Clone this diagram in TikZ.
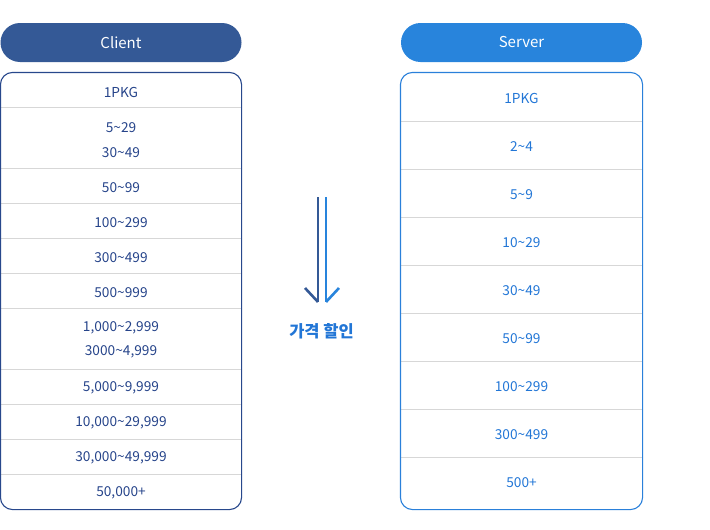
\documentclass[tikz,border=0pt]{standalone}
\usepackage{fontspec}
\setmainfont{Noto Sans CJK KR}
\usepackage{xcolor}

\definecolor{clienthead}{RGB}{52,89,150}
\definecolor{clientline}{RGB}{40,72,140}
\definecolor{clienttext}{RGB}{38,68,138}
\definecolor{serverhead}{RGB}{40,132,220}
\definecolor{serverline}{RGB}{42,128,218}
\definecolor{servertext}{RGB}{34,118,214}
\definecolor{rowline}{RGB}{215,215,215}

\tikzset{
  head/.style={rounded corners=19.5pt, minimum width=241pt, minimum height=39pt,
    inner sep=0pt, text=white, font=\fontsize{15}{18}\selectfont},
  cell/.style={inner sep=0pt, align=center, yshift=-1.5pt, font=\fontsize{13.7}{24.5}\selectfont},
  table/.style={rounded corners=12pt, line width=1.1pt, inner sep=0pt},
}

\begin{document}
\begin{tikzpicture}[x=1pt,y=-1pt]
                \useasboundingbox (0,0) rectangle (710,530);

                % headers
                \node[head, fill=clienthead] (chead) at (121,42.5) {Client};
                \node[head, fill=serverhead] (shead) at (521.5,42.5) {Server};

                % client table
                \node[table, minimum width=240pt, minimum height=436pt] (cbox) at (121,291) {};
                \draw[rowline] (cbox.west |- 0,107) -- (cbox.east |- 0,107);
                \draw[rowline] (cbox.west |- 0,168) -- (cbox.east |- 0,168);
                \draw[rowline] (cbox.west |- 0,203) -- (cbox.east |- 0,203);
                \draw[rowline] (cbox.west |- 0,238) -- (cbox.east |- 0,238);
                \draw[rowline] (cbox.west |- 0,273) -- (cbox.east |- 0,273);
                \draw[rowline] (cbox.west |- 0,308) -- (cbox.east |- 0,308);
                \draw[rowline] (cbox.west |- 0,369) -- (cbox.east |- 0,369);
                \draw[rowline] (cbox.west |- 0,404) -- (cbox.east |- 0,404);
                \draw[rowline] (cbox.west |- 0,439) -- (cbox.east |- 0,439);
                \draw[rowline] (cbox.west |- 0,474) -- (cbox.east |- 0,474);
                \draw[table, clientline] (cbox.south west) rectangle (cbox.north east);

                \node[cell, text=clienttext] (c1) at (121,91) {1PKG};
                \node[cell, text=clienttext] (c2) at (121,138.5) {5\textasciitilde 29\\30\textasciitilde 49};
                \node[cell, text=clienttext] (c3) at (121,186) {50\textasciitilde 99};
                \node[cell, text=clienttext] (c4) at (121,221) {100\textasciitilde 299};
                \node[cell, text=clienttext] (c5) at (121,256) {300\textasciitilde 499};
                \node[cell, text=clienttext] (c6) at (121,291) {500\textasciitilde 999};
                \node[cell, text=clienttext] (c7) at (121,338.5) {1,000\textasciitilde 2,999\\3000\textasciitilde 4,999};
                \node[cell, text=clienttext] (c8) at (121,386) {5,000\textasciitilde 9,999};
                \node[cell, text=clienttext] (c9) at (121,421) {10,000\textasciitilde 29,999};
                \node[cell, text=clienttext] (c10) at (121,456) {30,000\textasciitilde 49,999};
                \node[cell, text=clienttext] (c11) at (121,491) {50,000+};

                % server table
                \node[table, minimum width=241pt, minimum height=436pt] (sbox) at (521.5,291) {};
                \draw[rowline] (sbox.west |- 0,121) -- (sbox.east |- 0,121);
                \draw[rowline] (sbox.west |- 0,169) -- (sbox.east |- 0,169);
                \draw[rowline] (sbox.west |- 0,217) -- (sbox.east |- 0,217);
                \draw[rowline] (sbox.west |- 0,265) -- (sbox.east |- 0,265);
                \draw[rowline] (sbox.west |- 0,313) -- (sbox.east |- 0,313);
                \draw[rowline] (sbox.west |- 0,361) -- (sbox.east |- 0,361);
                \draw[rowline] (sbox.west |- 0,409) -- (sbox.east |- 0,409);
                \draw[rowline] (sbox.west |- 0,457) -- (sbox.east |- 0,457);
                \draw[table, serverline] (sbox.south west) rectangle (sbox.north east);

                \node[cell, text=servertext] (s1) at (521.5,97) {1PKG};
                \node[cell, text=servertext] (s2) at (521.5,145) {2\textasciitilde 4};
                \node[cell, text=servertext] (s3) at (521.5,193) {5\textasciitilde 9};
                \node[cell, text=servertext] (s4) at (521.5,241) {10\textasciitilde 29};
                \node[cell, text=servertext] (s5) at (521.5,289) {30\textasciitilde 49};
                \node[cell, text=servertext] (s6) at (521.5,337) {50\textasciitilde 99};
                \node[cell, text=servertext] (s7) at (521.5,385) {100\textasciitilde 299};
                \node[cell, text=servertext] (s8) at (521.5,433) {300\textasciitilde 499};
                \node[cell, text=servertext] (s9) at (521.5,481) {500+};

                % discount arrow
                \coordinate (ltop) at (318,197);
                \coordinate (lend) at (318,302);
                \coordinate (lbarb) at (305,288);
                \coordinate (rtop) at (326,197);
                \coordinate (rend) at (326,302);
                \coordinate (rbarb) at (339,288);
                \draw[clienthead, line width=2.6pt] (ltop) -- (lend);
                \draw[clienthead, line width=2.6pt] (lbarb) -- (lend);
                \draw[serverhead, line width=2.6pt] (rtop) -- (rend);
                \draw[serverhead, line width=2.6pt] (rbarb) -- (rend);

                \node[text=servertext, font=\bfseries\fontsize{16.5}{18}\selectfont] (sale) at (321.5,331) {가격 할인};
            \end{tikzpicture}
\end{document}
